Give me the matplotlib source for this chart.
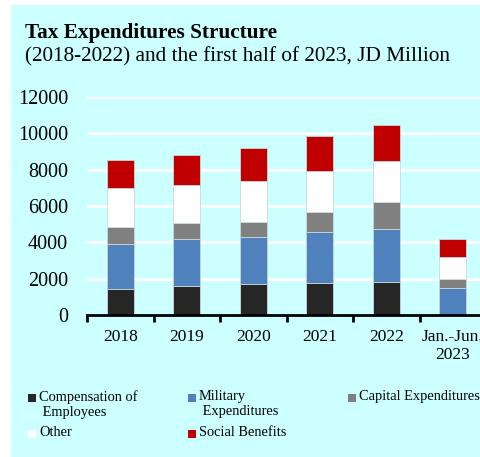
import matplotlib.pyplot as plt
import numpy as np
from matplotlib.patches import Rectangle

plt.rcParams['font.family'] = ['Liberation Serif', 'DejaVu Serif']

# data (JD million)
periods = ["2018", "2019", "2020", "2021", "2022", "Jan.-Jun.\n2023"]
compensation = [1415, 1578, 1688, 1780, 1835, 0]
military = [2510, 2587, 2624, 2770, 2880, 1469]
capital = [918, 915, 823, 1119, 1485, 494]
other = [2164, 2092, 2221, 2274, 2275, 1247]
social = [1540, 1634, 1853, 1908, 1965, 990]

series = [
    ("Compensation of\n Employees", compensation, "#262626"),
    ("Military\n Expenditures", military, "#4f81bd"),
    ("Capital Expenditures", capital, "#808080"),
    ("Other", other, "#ffffff"),
    ("Social Benefits", social, "#c00000"),
]

W, H = 480, 457
fig = plt.figure(figsize=(4.8, 4.57), dpi=100)
fig.patch.set_facecolor("white")
# light cyan panel behind everything
fig.patches.append(Rectangle((11 / W, 0), 1, 1 - 5 / H, transform=fig.transFigure,
                             facecolor="#ccffff", edgecolor="none", zorder=-10))

ax = fig.add_axes([87 / W, 1 - 315 / H, 399 / W, 218 / H])
ax.set_facecolor("none")

x = np.arange(len(periods))
bottom = np.zeros(len(periods))
for label, vals, color in series:
    ax.bar(x, vals, 0.41, bottom=bottom, color=color, edgecolor="#c8d8d8",
           linewidth=0.6, zorder=3)
    bottom += np.array(vals)

ax.set_xlim(-0.5, len(periods) - 0.5)
ax.set_ylim(0, 12000)
ax.set_yticks(np.arange(0, 12001, 2000))
ax.tick_params(axis="y", length=0, pad=13.5, labelsize=14.5)
ax.yaxis.grid(True, color="white", linewidth=2, zorder=0)

ax.set_xticks(x)
ax.set_xticklabels(periods, fontsize=12.5)
ax.set_xticks(np.arange(-0.5, len(periods)), minor=True)
ax.tick_params(axis="x", which="major", length=0, pad=10)
ax.tick_params(axis="x", which="minor", length=5, width=2, direction="out", color="black")

for side in ["left", "right", "top"]:
    ax.spines[side].set_visible(False)
ax.spines["bottom"].set_linewidth(2)
ax.spines["bottom"].set_zorder(4)

fig.text(25 / W, 1 - 33 / H, "Tax Expenditures Structure", fontsize=15.3,
         fontweight="bold", va="center", ha="left")
fig.text(25 / W, 1 - 57 / H, "(2018-2022) and the first half of 2023, JD Million",
         fontsize=15.3, va="center", ha="left")

# legend laid out like the original (two rows, three columns)
legend_pos = [(28, 398), (188, 398), (348, 398), (28, 434), (188, 434)]
for (label, vals, color), (lx, ly) in zip(series, legend_pos):
    fig.patches.append(Rectangle((lx / W, 1 - (ly + 4) / H), 8 / W, 8 / H,
                                 transform=fig.transFigure, facecolor=color,
                                 edgecolor="none"))
    fig.text((lx + 11) / W, 1 - (ly - 8) / H, label, fontsize=10.4,
             va="top", ha="left", linespacing=1.2)

fig.savefig("out.png", dpi=100)
